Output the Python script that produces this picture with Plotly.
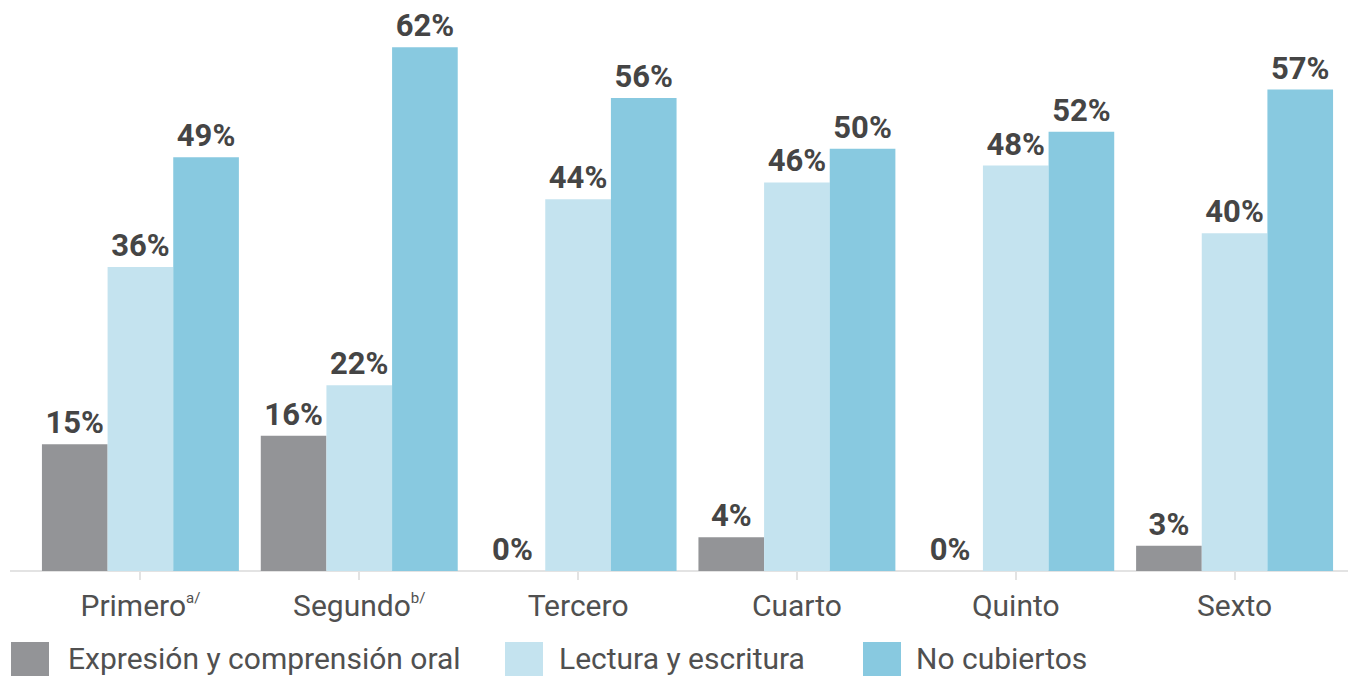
import plotly.graph_objects as go

categories = ["Primero<sup><span style='font-size:15px'>a/</span></sup>",
              "Segundo<sup><span style='font-size:15px'>b/</span></sup>",
              "Tercero", "Cuarto", "Quinto", "Sexto"]
expresion_oral = [15, 16, 0, 4, 0, 3]
lectura_escritura = [36, 22, 44, 46, 48, 40]
no_cubiertos = [49, 62, 56, 50, 52, 57]
series_names = ["Expresión y comprensión oral", "Lectura y escritura", "No cubiertos"]
colors = ["#939497", "#c4e3ef", "#88c9e0"]

FONT = "Roboto, Arial, sans-serif"
OFF = 8  # page body margin offset

fig = go.Figure()
for name, vals, col in zip(series_names, [expresion_oral, lectura_escritura, no_cubiertos], colors):
    fig.add_trace(go.Bar(
        x=categories, y=vals, name=name,
        marker=dict(color=col, line=dict(width=0)),
        text=[f"{v}%" for v in vals], textposition="outside",
        textfont=dict(family=FONT, size=31, color="#454545", weight="bold"),
        cliponaxis=False, showlegend=False,
    ))

W, H = 1348, 668
L, R, T, B = 23, 12, 14, 105
pw, ph = W - L - R, H - T - B

def px_x(px):
    return (px - OFF - L) / pw

def px_y(py):
    return (H - B - (py - OFF)) / ph

shapes = [dict(type="line", xref="paper", yref="paper", x0=px_x(10), x1=px_x(1356),
               y0=0, y1=0, line=dict(color="#e3e3e3", width=2), layer="below")]
annotations = []
legend_pos = [(11, 66), (505, 557), (863, 914)]
for (sx, tx), name, col in zip(legend_pos, series_names, colors):
    shapes.append(dict(type="rect", xref="paper", yref="paper",
                       x0=px_x(sx), x1=px_x(sx + 38), y0=px_y(642), y1=px_y(680),
                       fillcolor=col, line=dict(width=0)))
    annotations.append(dict(xref="paper", yref="paper", x=px_x(tx), y=px_y(659),
                            xanchor="left", yanchor="middle", text=name, showarrow=False,
                            font=dict(family=FONT, size=30, color="#505050")))

fig.update_layout(
    width=W, height=H,
    margin=dict(l=L, r=R, t=T, b=B, autoexpand=False),
    paper_bgcolor="white", plot_bgcolor="white",
    barmode="group", bargap=0.1, bargroupgap=0,
    font=dict(family=FONT, color="#505050"),
    shapes=shapes, annotations=annotations,
)
fig.update_xaxes(showline=False, showgrid=False, zeroline=False,
                 ticks="outside", ticklen=8, tickcolor="#e3e3e3", tickwidth=2,
                 tickfont=dict(family=FONT, size=30, color="#505050"))
fig.update_yaxes(range=[0, 65], visible=False, showgrid=False, zeroline=False)

fig.write_html("out.html")
